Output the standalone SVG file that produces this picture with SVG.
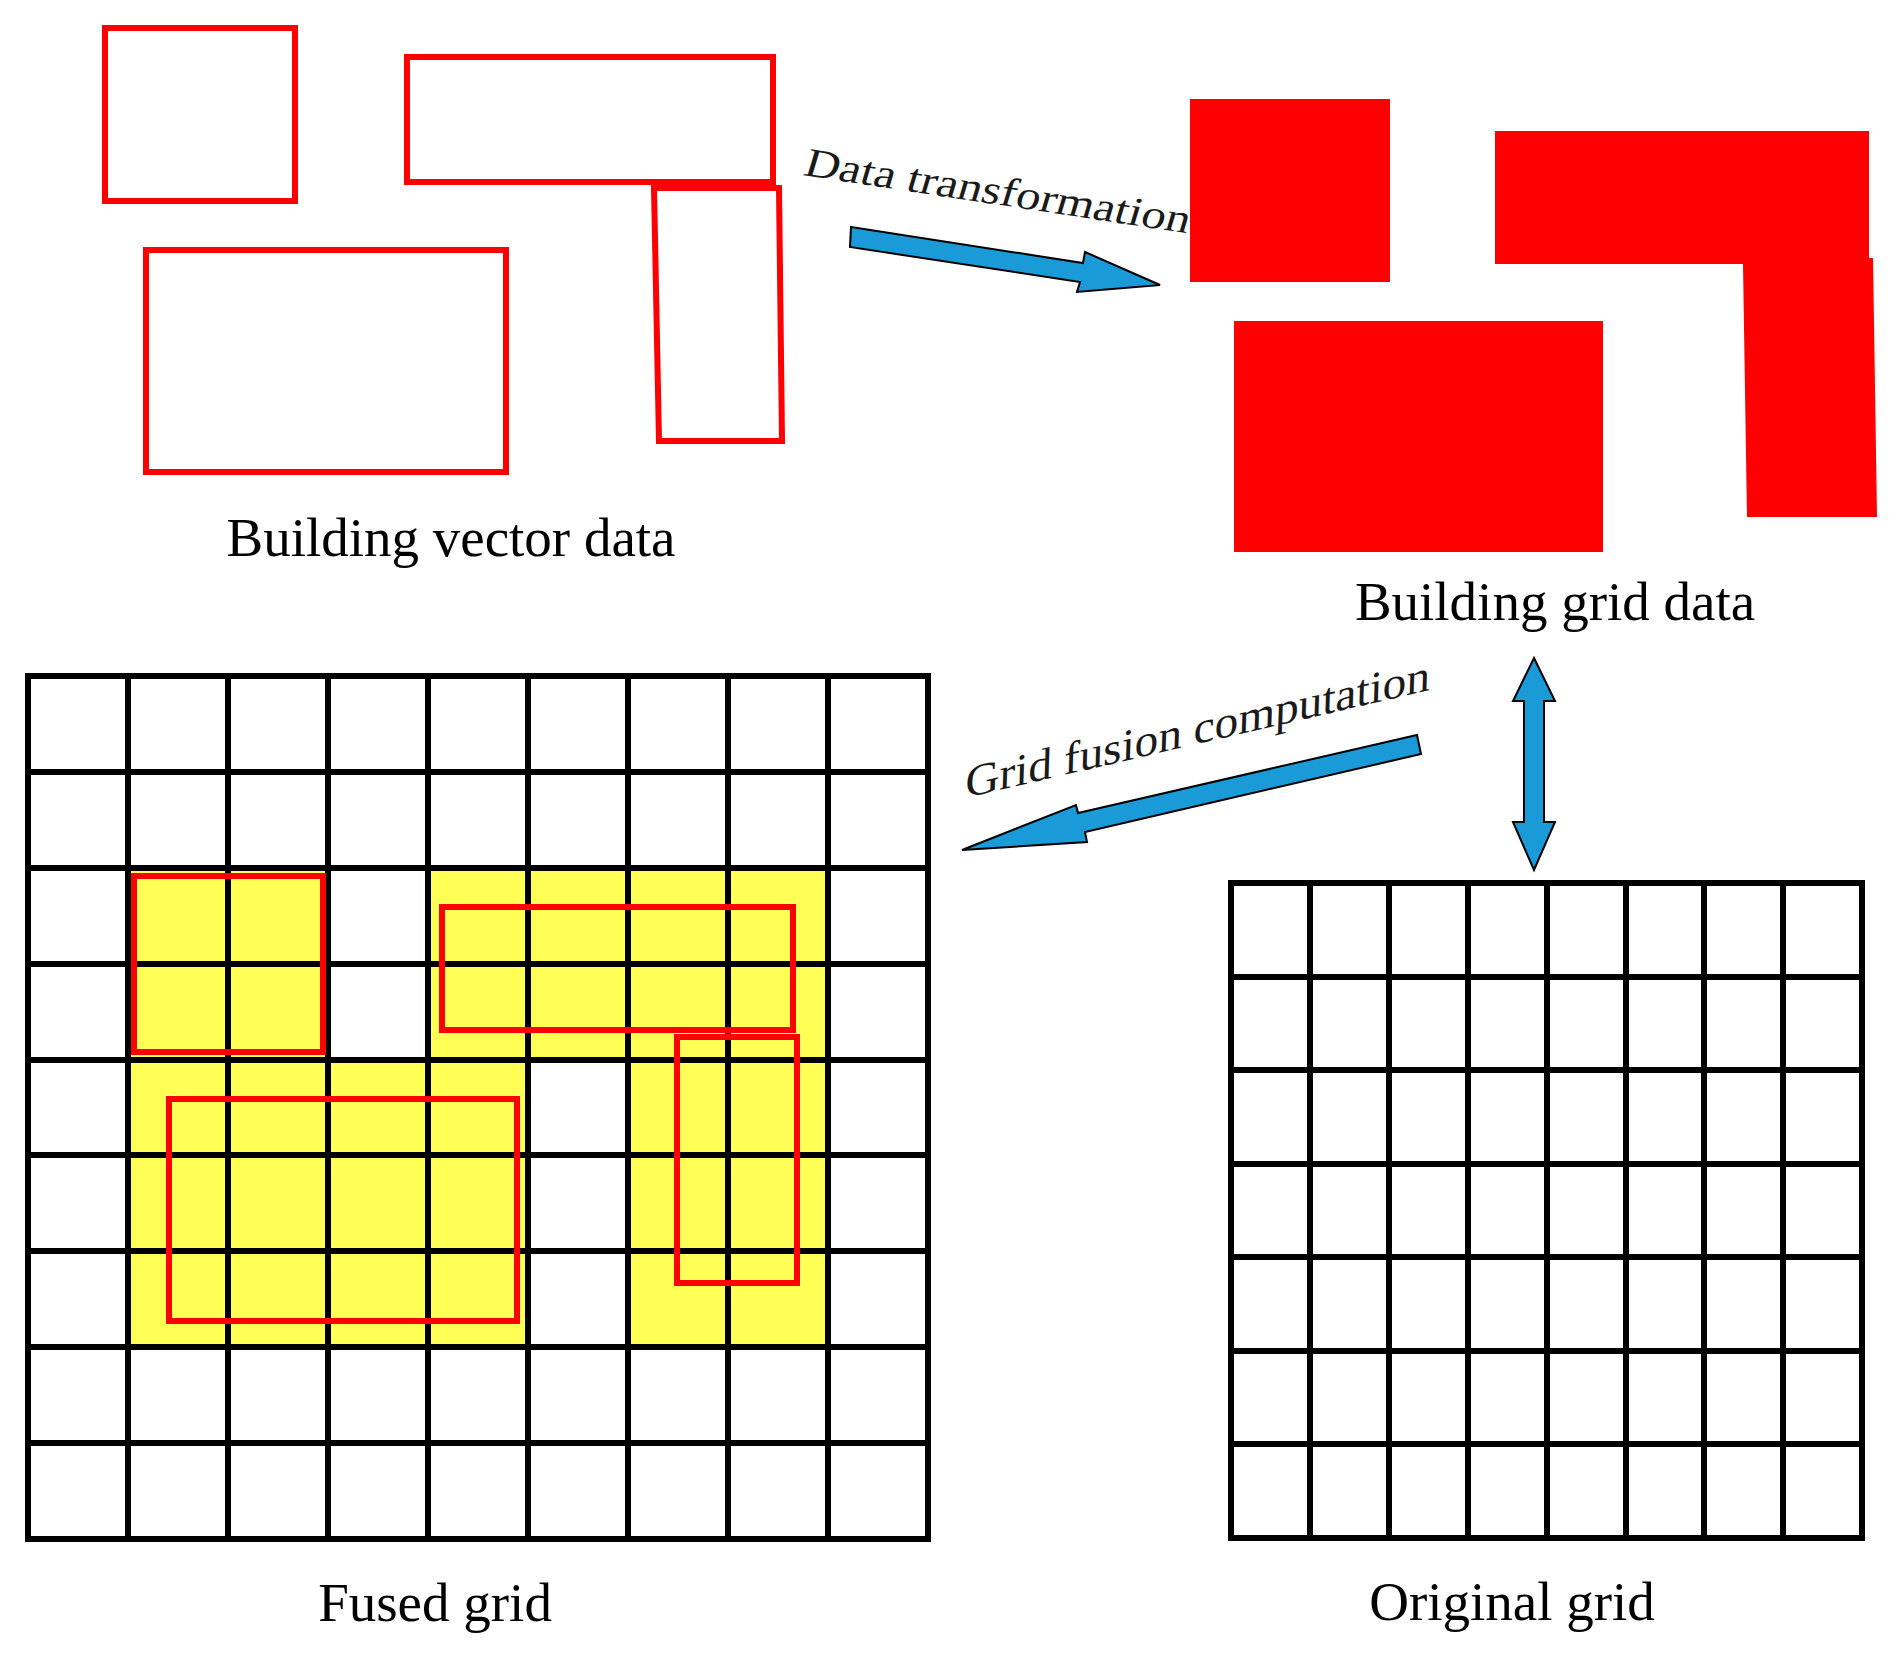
<svg xmlns="http://www.w3.org/2000/svg" width="1895" height="1656" viewBox="0 0 1895 1656">
<style>
.bg{fill:#ffffff}
.vec{fill:none;stroke:#ff0000;stroke-width:6}
.solid{fill:#ff0000;stroke:none}
.cell{fill:#ffff55;stroke:none}
.grid{stroke:#000000;stroke-width:6;fill:none;stroke-linecap:square}
.arrow{fill:#1a9ad6;stroke:#000000;stroke-width:2;stroke-linejoin:miter}
.lbl{font-family:"Liberation Serif","Times New Roman",serif;font-size:55px;fill:#000000;text-anchor:middle}
.elbl{font-family:"Liberation Serif","Times New Roman",serif;fill:#1a1a1a}
</style>
<rect class="bg" x="0" y="0" width="1895" height="1656"/>

<g id="building-vector-data">
  <rect class="vec" x="105" y="28" width="190" height="173"/>
  <rect class="vec" x="407" y="57" width="366" height="125"/>
  <polygon class="vec" points="654,188 779,188 782,441 659,441"/>
  <rect class="vec" x="146" y="250" width="360" height="222"/>
  <text class="lbl" x="451" y="556">Building vector data</text>
</g>

<g id="building-grid-data">
  <rect class="solid" x="1190" y="99" width="200" height="183"/>
  <polygon class="solid" points="1495,131 1869,131 1869,258 1873,258 1877,517 1747,517 1743,264 1495,264"/>
  <rect class="solid" x="1234" y="321" width="369" height="231"/>
  <text class="lbl" x="1555" y="620">Building grid data</text>
</g>

<g id="fused-grid">
  <g id="fused-cells">
    <rect class="cell" x="128" y="868" width="200" height="192"/>
    <rect class="cell" x="428" y="868" width="400" height="192"/>
    <rect class="cell" x="128" y="1060" width="400" height="287"/>
    <rect class="cell" x="628" y="1060" width="200" height="287"/>
  </g>
  <path class="grid" d="M28,676V1539M128,676V1539M228,676V1539M328,676V1539M428,676V1539M528,676V1539M628,676V1539M728,676V1539M828,676V1539M928,676V1539
  M28,676H928M28,772H928M28,868H928M28,964H928M28,1060H928M28,1155H928M28,1251H928M28,1347H928M28,1443H928M28,1539H928"/>
  <rect class="vec" x="134" y="876" width="189" height="176"/>
  <rect class="vec" x="442" y="907" width="351" height="123"/>
  <rect class="vec" x="677" y="1037" width="120" height="246"/>
  <rect class="vec" x="169" y="1099" width="348" height="222"/>
  <text class="lbl" x="435" y="1621">Fused grid</text>
</g>

<g id="original-grid">
  <path class="grid" d="M1231,883V1538M1310,883V1538M1389,883V1538M1468,883V1538M1547,883V1538M1626,883V1538M1704,883V1538M1783,883V1538M1862,883V1538
  M1231,883H1862M1231,977H1862M1231,1070H1862M1231,1164H1862M1231,1257H1862M1231,1351H1862M1231,1444H1862M1231,1538H1862"/>
  <text class="lbl" x="1512" y="1620">Original grid</text>
</g>

<g id="connectors">
  <g id="edge-data-transformation">
    <polygon class="arrow" points="851,227 1083,263 1085,252 1160,285 1077,292 1080,282 850,247"/>
    <text class="elbl" font-size="41" textLength="389" lengthAdjust="spacingAndGlyphs" transform="translate(802,175) rotate(8.6) skewX(-8)">Data transformation</text>
  </g>
  <g id="edge-grid-fusion">
    <polygon class="arrow" points="1417,735 1421,754 1085,832 1087,842 962,850 1076,805 1078,813"/>
    <text class="elbl" font-size="44" textLength="477" lengthAdjust="spacingAndGlyphs" transform="translate(965,798) rotate(-13.1) skewX(-15)">Grid fusion computation</text>
  </g>
  <g id="edge-grid-original">
    <polygon class="arrow" points="1534,658 1555,701 1544,701 1544,822 1555,822 1534,870 1513,822 1524,822 1524,701 1513,701"/>
  </g>
</g>
</svg>
